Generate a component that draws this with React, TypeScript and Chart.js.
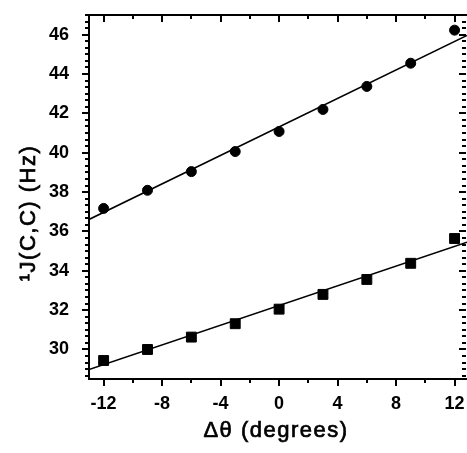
import React, { useEffect, useRef } from "react";
import { Chart, registerables } from "chart.js";

Chart.register(...registerables);

const thetaDeg = [-12, -9, -6, -3, 0, 3, 6, 9, 12];
const jUpper = [37.17, 38.09, 39.04, 40.06, 41.08, 42.2, 43.37, 44.55, 46.23];
const jLower = [29.44, 30.0, 30.63, 31.31, 32.05, 32.8, 33.56, 34.38, 35.64];
const fitX = [-13, 12.85];
const fitUpper = [36.61, 45.96];
const fitLower = [28.98, 35.45];
const xTickLabels = [-12, -8, -4, 0, 4, 8, 12];
const xMinorTicks = [-10, -6, -2, 2, 6, 10];
const yTickLabels = [30, 32, 34, 36, 38, 40, 42, 44, 46];
const yMinorStep = 2 / 6;

const FONT = '"Liberation Sans", Arial, sans-serif';

const axesPlugin = {
  id: "axesPlugin",
  afterDraw(chart: any) {
    const { ctx, chartArea: a, scales } = chart;
    const xs = scales.x;
    const ys = scales.y;
    ctx.save();
    ctx.strokeStyle = "#000";
    ctx.lineWidth = 2;
    ctx.lineCap = "butt";
    ctx.beginPath();
    ctx.moveTo(a.left, a.top);
    ctx.lineTo(a.right, a.top);
    ctx.moveTo(a.left, a.top - 1);
    ctx.lineTo(a.left, a.bottom + 1);
    ctx.moveTo(a.left - 1, a.bottom);
    ctx.lineTo(a.right, a.bottom);
    ctx.stroke();
    const drawX = (v: number, len: number) => {
      const px = Math.round(xs.getPixelForValue(v));
      ctx.beginPath();
      ctx.moveTo(px, a.bottom);
      ctx.lineTo(px, a.bottom + len);
      ctx.moveTo(px, a.top);
      ctx.lineTo(px, a.top + len);
      ctx.stroke();
    };
    xTickLabels.forEach((v) => drawX(v, 7));
    xMinorTicks.forEach((v) => drawX(v, 4));
    const drawY = (v: number, len: number) => {
      const py = Math.round(ys.getPixelForValue(v));
      ctx.beginPath();
      ctx.moveTo(a.left, py);
      ctx.lineTo(a.left - len, py);
      ctx.moveTo(a.right - 1, py);
      ctx.lineTo(a.right - 1 - len, py);
      ctx.stroke();
    };
    yTickLabels.forEach((v) => drawY(v, 7));
    for (let k = 0; k < 60; k++) {
      const v = 28 + k * yMinorStep;
      if (v < ys.min || v > ys.max) continue;
      if (Math.abs(v / 2 - Math.round(v / 2)) < 1e-6) continue;
      drawY(v, 4);
    }
    ctx.fillStyle = "#000";
    ctx.lineWidth = 0.7;
    ctx.font = `22px ${FONT}`;
    (ctx as any).letterSpacing = "1.5px";
    ctx.textAlign = "center";
    ctx.textBaseline = "middle";
    const xt = "\u0394\u03b8 (degrees)";
    ctx.fillText(xt, 276, 431);
    ctx.strokeText(xt, 276, 431);
    ctx.translate(29, 213);
    ctx.rotate(-Math.PI / 2);
    const yt = "\u00b9J(C,C) (Hz)";
    ctx.fillText(yt, 0, 0);
    ctx.strokeText(yt, 0, 0);
    (ctx as any).letterSpacing = "0px";
    ctx.restore();
  },
};

export default function App() {
  const ref = useRef<HTMLCanvasElement | null>(null);
  useEffect(() => {
    if (!ref.current) return;
    const chart = new Chart(ref.current, {
      type: "scatter",
      data: {
        datasets: [
          {
            type: "line",
            data: fitX.map((x, i) => ({ x, y: fitUpper[i] })),
            borderColor: "#000",
            borderWidth: 1.6,
            pointRadius: 0,
            fill: false,
          },
          {
            type: "line",
            data: fitX.map((x, i) => ({ x, y: fitLower[i] })),
            borderColor: "#000",
            borderWidth: 1.6,
            pointRadius: 0,
            fill: false,
          },
          {
            data: thetaDeg.map((x, i) => ({ x, y: jUpper[i] })),
            pointStyle: "circle",
            pointRadius: 5,
            backgroundColor: "#000",
            borderColor: "#000",
            borderWidth: 1,
          },
          {
            data: thetaDeg.map((x, i) => ({ x, y: jLower[i] })),
            pointStyle: "rect",
            pointRadius: 7,
            backgroundColor: "#000",
            borderColor: "#000",
            borderWidth: 1,
          },
        ] as any,
      },
      options: {
        animation: false,
        responsive: false,
        layout: { autoPadding: false, padding: { top: 15, right: 0, left: 0, bottom: 0 } },
        plugins: { legend: { display: false }, tooltip: { enabled: false } },
        scales: {
          x: {
            type: "linear",
            min: -13,
            max: 12.85,
            grid: { display: false },
            border: { display: false },
            afterBuildTicks: (s: any) => {
              s.ticks = xTickLabels.map((v) => ({ value: v }));
            },
            afterFit: (s: any) => {
              s.height = 74;
              s.paddingLeft = 0;
              s.paddingRight = 0;
            },
            ticks: {
              color: "#000",
              padding: 6,
              maxRotation: 0,
              autoSkip: false,
              font: { family: FONT, size: 18, weight: "bold" },
              callback: (v: any) => String(v),
            },
          },
          y: {
            type: "linear",
            min: 28.5,
            max: 47,
            grid: { display: false },
            border: { display: false },
            afterBuildTicks: (s: any) => {
              s.ticks = yTickLabels.map((v) => ({ value: v }));
            },
            afterFit: (s: any) => {
              s.width = 89;
              s.paddingTop = 0;
              s.paddingBottom = 0;
            },
            ticks: {
              color: "#000",
              padding: 12,
              autoSkip: false,
              font: { family: FONT, size: 18, weight: "bold" },
              callback: (v: any) => String(v),
            },
          },
        },
      },
      plugins: [axesPlugin],
    });
    return () => chart.destroy();
  }, []);
  return (
    <div style={{ position: "absolute", left: 0, top: 0, width: 467, height: 453, background: "#fff" }}>
      <canvas ref={ref} width={467} height={453} />
    </div>
  );
}
